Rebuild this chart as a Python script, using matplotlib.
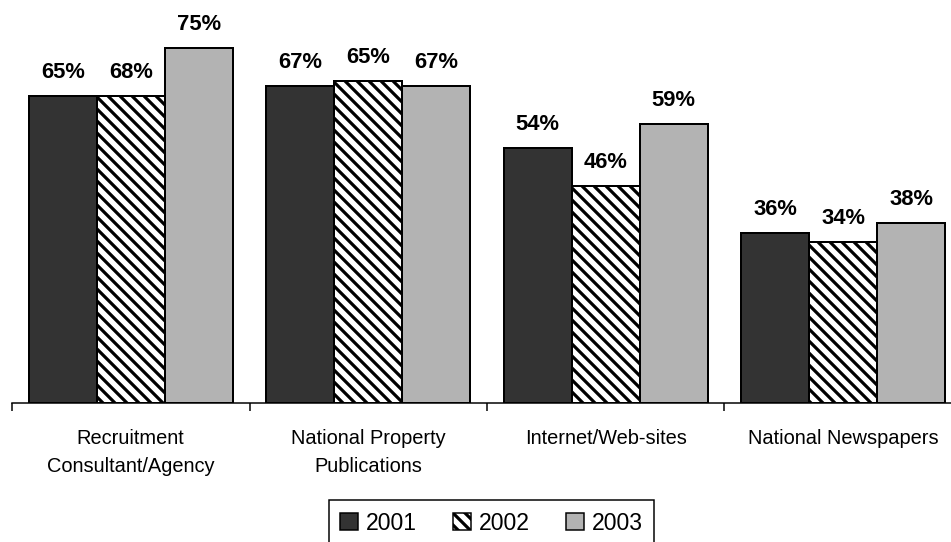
import matplotlib
matplotlib.use("Agg")
import matplotlib.pyplot as plt
from matplotlib import font_manager
from matplotlib.patches import Patch
import numpy as np

# ---- data ----
categories = ["Recruitment\nConsultant/Agency", "National Property\nPublications",
              "Internet/Web-sites", "National Newspapers"]
series_names = ["2001", "2002", "2003"]
values_2001 = [65, 67, 54, 36]
values_2002 = [65, 68, 46, 34]
values_2003 = [75, 67, 59, 38]
labels_2001 = ["65%", "67%", "54%", "36%"]
labels_2002 = ["68%", "65%", "46%", "34%"]
labels_2003 = ["75%", "67%", "59%", "38%"]

# ---- styles ----
W, H, DPI = 951, 542, 72
installed = {f.name for f in font_manager.fontManager.ttflist}
base_font = "Liberation Sans" if "Liberation Sans" in installed else "DejaVu Sans"
narrow_font = "Liberation Sans Narrow" if "Liberation Sans Narrow" in installed else base_font
legend_size = 26 if narrow_font != base_font else 23

plt.rcParams["font.family"] = [base_font, "DejaVu Sans"]
plt.rcParams["hatch.linewidth"] = 3.2
plt.rcParams["hatch.color"] = "#333333"

fig = plt.figure(figsize=(W / DPI, H / DPI), dpi=DPI)
px_per_unit = 4.733
base_y = 403.3
ax_left, ax_right = 12, 962
ax = fig.add_axes([ax_left / W, 1 - base_y / H, (ax_right - ax_left) / W, base_y / H])
ax.set_ylim(0, base_y / px_per_unit)
ax.set_xlim(-0.5, len(categories) - 0.5)

x = np.arange(len(categories))
bw = 0.286
styles = [
    dict(color="#333333", hatch=None),
    dict(color="white", hatch="\\\\"),
    dict(color="#b3b3b3", hatch=None),
]
all_vals = [values_2001, values_2002, values_2003]
all_labels = [labels_2001, labels_2002, labels_2003]
for i, (vals, labs, st) in enumerate(zip(all_vals, all_labels, styles)):
    xs = x + (i - 1) * bw
    bars = ax.bar(xs, vals, width=bw, color=st["color"], edgecolor="black",
                  linewidth=2, hatch=st["hatch"], zorder=2)
    for b, lab in zip(bars, labs):
        ax.annotate(lab, (b.get_x() + b.get_width() / 2, b.get_height()),
                    xytext=(0, 18), textcoords="offset points",
                    ha="center", va="baseline", fontsize=22, fontweight="bold",
                    color="black")

for s in ["left", "right", "top"]:
    ax.spines[s].set_visible(False)
ax.spines["bottom"].set_linewidth(1.5)
ax.spines["bottom"].set_zorder(3)
ax.set_yticks([])

ax.set_xticks(np.arange(-0.5, len(categories) - 0.4, 1.0))
ax.set_xticklabels([])
ax.tick_params(axis="x", which="major", direction="out", length=8, width=1.5)
ax.set_xticks(x, minor=True)
ax.set_xticklabels(categories, minor=True, fontsize=20, linespacing=1.58)
ax.tick_params(axis="x", which="minor", length=0, pad=26)

handles = [Patch(facecolor=st["color"], edgecolor="black", linewidth=1.5,
                 hatch=st["hatch"]) for st in styles]
leg = fig.legend(handles, series_names, loc="upper center",
                 bbox_to_anchor=(491.5 / W, 1 - 500 / H), ncol=3,
                 frameon=True, fancybox=False, edgecolor="black", framealpha=1,
                 prop={"family": narrow_font, "size": legend_size},
                 handlelength=0.75, handleheight=0.75, handletextpad=0.35,
                 columnspacing=1.6, borderpad=0.5, borderaxespad=0)
leg.get_frame().set_linewidth(1.5)

fig.savefig("out.png", dpi=DPI)
